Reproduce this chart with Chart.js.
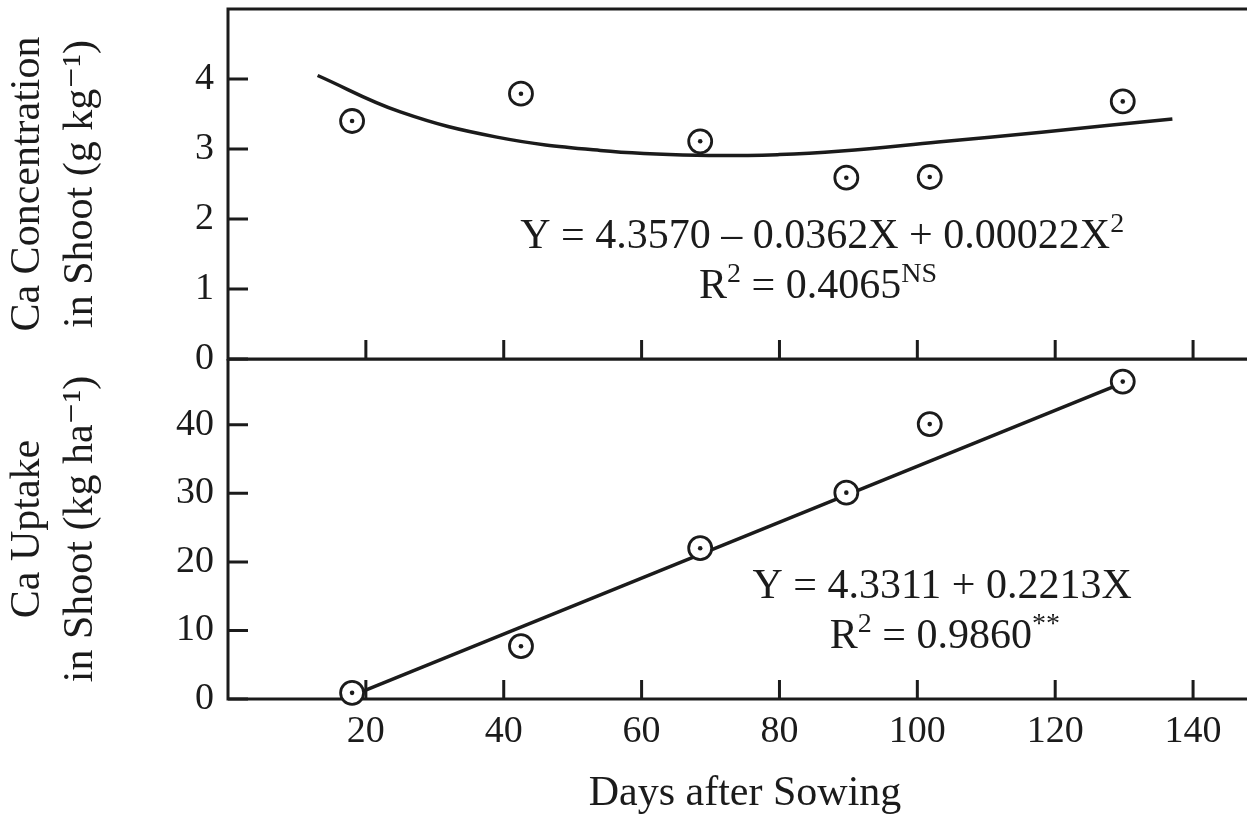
<!DOCTYPE html>
<html>
<head>
<meta charset="utf-8">
<script src="https://cdn.jsdelivr.net/npm/chart.js@4.4.1/dist/chart.umd.min.js"></script>
<style>
    html, body { margin: 0; padding: 0; background: #fff; overflow: hidden; width: 1247px; height: 815px; }
    #topBox { position: absolute; left: 0; top: 0; width: 1262px; height: 385px; }
    #bottomBox { position: absolute; left: 0; top: 359px; width: 1262px; height: 456px; }
</style>
</head>
<body>
<div id="topBox"><canvas id="concChart"></canvas></div>
<div id="bottomBox"><canvas id="uptakeChart"></canvas></div>
<script>
// values
const days = [18, 42.5, 68.5, 89.7, 101.8, 129.8]
const caConc = [3.4, 3.79, 3.11, 2.59, 2.6, 3.68]
const caUptake = [0.9, 7.7, 22.0, 30.1, 40.1, 46.3]

// fitted curves
const concFitDays = [13, 25, 39, 54, 68, 80, 89, 103, 118, 137]
const concFitValues = [4.05, 3.53, 3.17, 2.98, 2.91, 2.92, 2.97, 3.1, 3.24, 3.43]
const uptakeFitDays = [18, 130]
const uptakeFitValues = [0.5, 46.2]

const dayTicks = [20, 40, 60, 80, 100, 120, 140]
const concTicks = [0, 1, 2, 3, 4]
const uptakeTicks = [0, 10, 20, 30, 40]

const serif = "'Liberation Serif', 'DejaVu Serif', serif"
const ink = "#1b1b1b"

function pairs(xs, ys) {
    return xs.map((x, i) => ({ x: x, y: ys[i] }))
}

function noPad(s) {
    s.paddingTop = 0
    s.paddingBottom = 0
    s.paddingLeft = 0
    s.paddingRight = 0
}

// frame + inward tick marks
const framePlugin = {
    id: "frame",
    beforeDatasetsDraw(chart) {
        const { ctx, chartArea: a, scales } = chart
        ctx.save()
        ctx.strokeStyle = ink
        ctx.lineWidth = 3
        ctx.strokeRect(a.left, a.top, a.right - a.left, a.bottom - a.top)
        ctx.beginPath()
        scales.y.ticks.forEach(t => {
            const py = scales.y.getPixelForValue(t.value)
            ctx.moveTo(a.left, py)
            ctx.lineTo(a.left + 20, py)
        })
        dayTicks.forEach(d => {
            const px = scales.x.getPixelForValue(d)
            ctx.moveTo(px, a.bottom)
            ctx.lineTo(px, a.bottom - 19)
        })
        ctx.stroke()
        ctx.restore()
    }
}

// regression equations
const notesPlugin = {
    id: "notes",
    afterDatasetsDraw(chart, args, opts) {
        const { ctx, scales } = chart
        ctx.save()
        ctx.fillStyle = ink
        ctx.textBaseline = "alphabetic"
        opts.lines.forEach(line => {
            const widths = line.parts.map(p => {
                ctx.font = (p.sup ? "28px " : "42px ") + serif
                return ctx.measureText(p.text).width
            })
            const total = widths.reduce((s, w) => s + w, 0)
            let x = scales.x.getPixelForValue(line.x) - total / 2
            const y = scales.y.getPixelForValue(line.y)
            line.parts.forEach((p, i) => {
                ctx.font = (p.sup ? "28px " : "42px ") + serif
                ctx.fillText(p.text, x, p.sup ? y - 16 : y)
                x += widths[i]
            })
        })
        ctx.restore()
    }
}

function options(yMax, yTicks, yTitle, isBottom, notes) {
    this.responsive = true
    this.maintainAspectRatio = false
    this.animation = false
    this.layout = {
        autoPadding: false,
        padding: { top: isBottom ? 0 : 9, right: 0, bottom: isBottom ? 0 : 26, left: 0 }
    }
    this.plugins = {
        legend: { display: false },
        tooltip: { enabled: false },
        notes: { lines: notes }
    }
    this.scales = {
        x: {
            type: "linear",
            min: 0,
            max: 150,
            display: isBottom,
            grid: { display: false, drawTicks: false },
            border: { display: false },
            afterBuildTicks: s => { s.ticks = dayTicks.map(v => ({ value: v })) },
            afterFit: s => {
                noPad(s)
                if (isBottom) s.height = 116
            },
            ticks: { font: { family: serif, size: 38 }, color: ink, padding: 10, maxRotation: 0 },
            title: {
                display: true,
                text: "Days after Sowing",
                color: ink,
                font: { family: serif, size: 42, lineHeight: 1 },
                padding: { top: 0, bottom: 0 }
            }
        },
        y: {
            type: "linear",
            min: 0,
            max: yMax,
            grid: { display: false, drawTicks: false },
            border: { display: false },
            afterBuildTicks: s => { s.ticks = yTicks.map(v => ({ value: v })) },
            afterFit: s => {
                noPad(s)
                s.width = 228
            },
            ticks: { font: { family: serif, size: 38 }, color: ink, padding: 14 },
            title: {
                display: true,
                text: yTitle,
                color: ink,
                font: { family: serif, size: 42, lineHeight: 1.25 },
                padding: { top: 2, bottom: 0 }
            }
        }
    }
}

function datasets(fit, points, smooth) {
    return [
        {
            type: "line",
            data: fit,
            borderColor: ink,
            borderWidth: 3.5,
            pointRadius: 0,
            tension: smooth ? 0.4 : 0,
            fill: false,
            clip: false,
            order: 2
        },
        {
            data: points,
            pointRadius: 11.5,
            pointBorderWidth: 2.8,
            pointBorderColor: ink,
            pointBackgroundColor: "#fff",
            clip: false,
            order: 1
        },
        {
            data: points,
            pointRadius: 2.3,
            pointBorderWidth: 0,
            pointBackgroundColor: ink,
            clip: false,
            order: 0
        }
    ]
}

const concChart = new Chart(
    document.getElementById("concChart"),
    {
        type: "scatter",
        data: { datasets: datasets(pairs(concFitDays, concFitValues), pairs(days, caConc), true) },
        options: new options(5, concTicks, ["Ca Concentration", "in Shoot (g kg\u207B\u00B9)"], false, [
            { x: 86.2, y: 1.59, parts: [{ text: "Y = 4.3570 \u2013 0.0362X + 0.00022X" }, { text: "2", sup: true }] },
            { x: 85.6, y: 0.87, parts: [{ text: "R" }, { text: "2", sup: true }, { text: " = 0.4065" }, { text: "NS", sup: true }] }
        ]),
        plugins: [framePlugin, notesPlugin]
    }
)

const uptakeChart = new Chart(
    document.getElementById("uptakeChart"),
    {
        type: "scatter",
        data: { datasets: datasets(pairs(uptakeFitDays, uptakeFitValues), pairs(days, caUptake), false) },
        options: new options(49.6, uptakeTicks, ["Ca Uptake", "in Shoot (kg ha\u207B\u00B9)"], true, [
            { x: 103.6, y: 14.74, parts: [{ text: "Y = 4.3311 + 0.2213X" }] },
            { x: 104, y: 7.45, parts: [{ text: "R" }, { text: "2", sup: true }, { text: " = 0.9860" }, { text: "**", sup: true }] }
        ]),
        plugins: [framePlugin, notesPlugin]
    }
)
</script>
</body>
</html>
